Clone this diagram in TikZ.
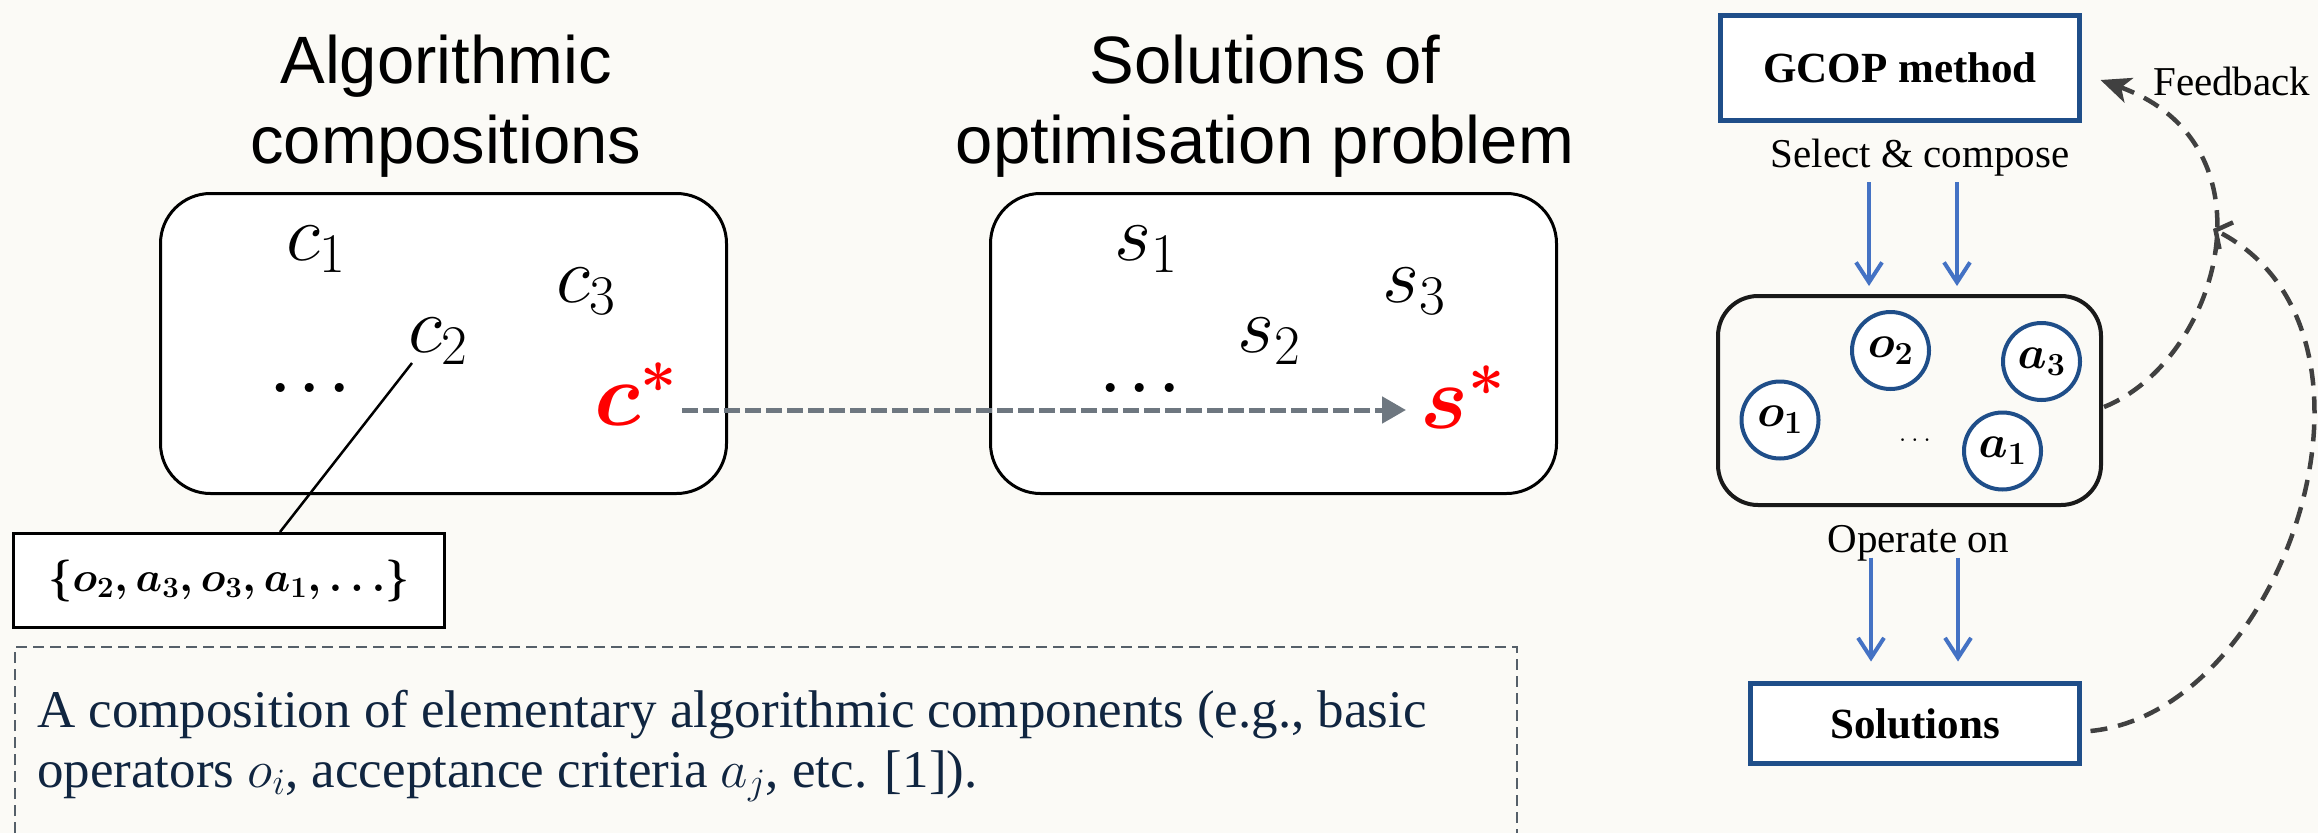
\RequirePackage{fix-cm}
\documentclass[tikz,border=0pt]{standalone}
\usepackage{amsmath}
\usepackage{fontspec}
\setmainfont{Liberation Serif}
\newfontfamily\arialf{Liberation Sans}
\usetikzlibrary{arrows.meta,calc}
\definecolor{bgc}{RGB}{251,250,246}
\definecolor{gblue}{RGB}{31,78,137}
\definecolor{ablue}{RGB}{68,114,196}
\definecolor{dgray}{RGB}{64,64,64}
\definecolor{agray}{RGB}{110,119,128}
\definecolor{navy}{RGB}{16,37,64}
\definecolor{dashc}{RGB}{85,95,105}
\definecolor{starred}{RGB}{255,0,0}
\newcommand\fs[1]{\fontsize{#1}{#1}\selectfont}
\begin{document}
\begin{tikzpicture}[x=1pt,y=-1pt,
  bigbox/.style={draw=black, line width=3pt, rounded corners=50pt, fill=white,
    minimum width=566pt, minimum height=300pt, inner sep=0pt},
  ttl/.style={inner sep=0pt, anchor=base, font=\arialf\fs{67}},
  mlbl/.style={inner sep=0pt, anchor=base west, font=\fs{80}},
  slbl/.style={inner sep=0pt, anchor=base west, font=\fs{90}\boldmath, text=starred},
  mdots/.style={inner sep=0pt, anchor=base west, font=\fs{58}\boldmath},
  setbox/.style={draw=black, line width=3pt, fill=white, minimum width=431pt,
    minimum height=94pt, inner sep=0pt, font=\fs{42}\boldmath},
  desc/.style={inner sep=0pt, anchor=base west, text=navy, font=\fs{53}},
  bluebox/.style={draw=gblue, line width=5pt, fill=white, inner sep=0pt, font=\fs{43}\bfseries},
  lbl/.style={inner sep=0pt, anchor=base, font=\fs{41}},
  elem/.style={circle, draw=gblue, line width=4pt, fill=white, minimum size=77pt,
    inner sep=0pt, font=\fs{46}\boldmath},
  barrow/.style={draw=ablue, line width=4pt, -{Straight Barb[length=20pt,width=26pt]}},
  fbline/.style={draw=dgray, line width=4.5pt, dash pattern=on 17pt off 11pt},
  carrow/.style={draw=agray, line width=5pt, dash pattern=on 16pt off 5pt,
    -{Triangle[length=24pt,width=26pt]}}
]
\useasboundingbox[fill=bgc] (0,0) rectangle (2318,833);

% titles
\node[ttl] (t1a) at (446,83) {Algorithmic};
\node[ttl] (t1b) at (446,163) {compositions};
\node[ttl] (t2a) at (1265,83) {Solutions of};
\node[ttl] (t2b) at (1265,163) {optimisation problem};

% composition box
\node[bigbox] (cbox) at (443.5,343.5) {};
\node[mlbl] (c1) at (286,260) {$c_1$};
\node[mlbl] (c3) at (556,302) {$c_3$};
\node[mlbl] (c2) at (408,352) {$c_2$};
\node[mdots] (cdots) at (271,392) {$\ldots$};
\node[slbl] (cstar) at (594,425) {$c^{*}$};

% solution box
\node[bigbox] (sbox) at (1273.5,343.5) {};
\node[mlbl] (s1) at (1114,260) {$s_1$};
\node[mlbl] (s3) at (1382,302) {$s_3$};
\node[mlbl] (s2) at (1237,352) {$s_2$};
\node[mdots] (sdots) at (1101,392) {$\ldots$};
\node[slbl] (sstar) at (1420,428) {$s^{*}$};

\draw[carrow] ($(cstar.base east)+(5,-15)$) -- ($(sstar.base west)+(-14,-18)$);

% set of components
\node[setbox] (setbox) at (229,580.5) {$\{o_2, a_3, o_3, a_1, \ldots\}$};
\draw[line width=2.5pt] ($(c2.base west)+(4,11)$) -- ($(setbox.north)+(51,0)$);

% description
\draw[dashc, line width=2pt, dash pattern=on 11pt off 6pt] (15,833) -- (15,647) -- (1517,647) -- (1517,833);
\node[desc] (d1) at (37,727) {A composition of elementary algorithmic components (e.g., basic};
\node[desc] (d2) at ($(d1.base west)+(0,60)$) {operators $o_i$, acceptance criteria $a_j$, etc. [1]).};

% right panel
\node[bluebox, minimum width=359pt, minimum height=105pt] (gcop) at (1900,68) {GCOP method};
\node[lbl] (sel) at (1920,167) {Select \& compose};
\node[draw=black!90, line width=4pt, rounded corners=40pt, minimum width=383pt,
  minimum height=209pt, inner sep=0pt] (pool) at (1909.5,400.5) {};
\node[elem] (o2) at (1890.5,350.5) {$o_2$};
\node[elem] (a3) at (2041.5,361.5) {$a_3$};
\node[elem] (o1) at (1780,420) {$o_1$};
\node[elem] (a1) at (2002.5,451) {$a_1$};
\node[inner sep=0pt, font=\fs{28}] (pdots) at (1915,440) {$\ldots$};
\node[lbl] (oper) at (1918,552) {Operate on};
\node[bluebox, minimum width=329pt, minimum height=80pt] (sol) at (1915,723.5) {Solutions};
\node[lbl, anchor=base west] (fb) at (2153,95) {Feedback};

\draw[barrow] ($(pool.north)+(-40.5,-112)$) -- ($(pool.north)+(-40.5,-8)$);
\draw[barrow] ($(pool.north)+(47.5,-112)$) -- ($(pool.north)+(47.5,-8)$);
\draw[barrow] ($(sol.north)+(-44,-123.5)$) -- ($(sol.north)+(-44,-19.5)$);
\draw[barrow] ($(sol.north)+(43,-123.5)$) -- ($(sol.north)+(43,-19.5)$);

\draw[fbline, -{Stealth[length=30pt,width=26pt,inset=8pt]}]
  ($(pool.east)+(1,6.5)$) .. controls (2220,360) and (2280,145) .. ($(gcop.east)+(18.5,12)$);
\coordinate (fbend) at (2213,229);
\draw[fbline, -{Straight Barb[length=12pt,width=30pt]}]
  ($(sol.east)+(8.5,7.5)$) .. controls (2285,712) and (2412,330) .. (fbend);
\end{tikzpicture}
\end{document}
